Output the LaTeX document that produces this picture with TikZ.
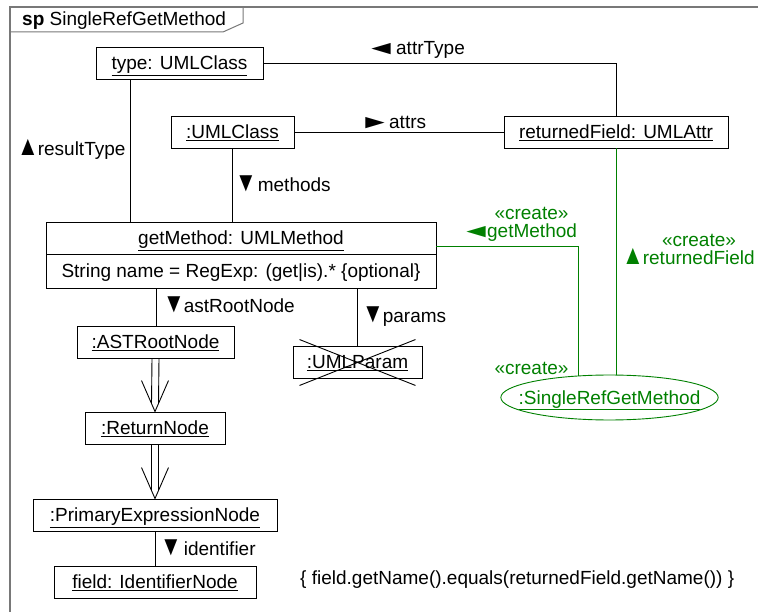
\documentclass[tikz,border=0pt]{standalone}
\usepackage{graphicx}
\usepackage{fontspec}
\setmainfont{Liberation Sans}
\usetikzlibrary{shapes.geometric}
\definecolor{umlgreen}{RGB}{0,128,0}
\definecolor{framegray}{RGB}{120,120,120}
% direction marks of link labels (side bearings removed)
\newcommand\triup{\kern-5pt\scalebox{1.15}[1.45]{▲}\kern-6pt}
\newcommand\tridown{\kern-5pt\scalebox{1.15}[1.45]{▼}\kern-6pt}
\newcommand\trileft{\kern-8pt\scalebox{1.7}[1.0]{◄}\kern-7pt}
\newcommand\triright{\kern-8pt\scalebox{1.7}[1.0]{►}\kern-7pt}
\begin{document}
\begin{tikzpicture}[x=1pt,y=-1pt,
  every node/.style={font=\fontsize{19}{22}\selectfont, inner sep=0pt, text height=15pt, text depth=2pt},
  obj/.style={draw, line width=0.9pt, minimum height=32pt},
  link/.style={line width=0.9pt},
  lbl/.style={anchor=west},
  create/.style={text=umlgreen},
  createlink/.style={umlgreen, line width=1pt}]
\useasboundingbox (0,0) rectangle (758,612);

% diagram frame with its name tab
\draw[framegray, line width=1.5pt] (10,612) -- (10,7) -- (758,7);
\draw[framegray, line width=1pt] (10,32) -- (223,32) -- (243,23) -- (243,7);
\node[lbl] (title) at (22,19) {\textbf{sp} SingleRefGetMethod};

% objects
\node[obj, minimum width=167pt] (type) at (179.5,63.5) {\underline{type: UMLClass}};
\node[obj, minimum width=123pt] (cls) at (232.5,132) {\underline{:UMLClass}};
\node[obj, minimum width=224pt] (rf) at (616,132) {\underline{returnedField: UMLAttr}};
\node[obj, minimum width=390pt] (gm) at (241,238) {\underline{getMethod: UMLMethod}};
\node[obj, minimum width=390pt, minimum height=34pt] (gma) at (241,271) {String name = RegExp: (get|is).* \{optional\}};
\node[obj, minimum width=157pt] (ast) at (155.5,342) {\underline{:ASTRootNode}};
\node[obj, minimum width=129pt] (param) at (357.5,362) {\underline{:UMLParam}};
\node[obj, minimum width=140pt] (ret) at (155,428) {\underline{:ReturnNode}};
\node[obj, minimum width=244pt] (prim) at (155,515) {\underline{:PrimaryExpressionNode}};
\node[obj, minimum width=202pt] (fld) at (155,582) {\underline{field: IdentifierNode}};
\node[ellipse, draw=umlgreen, line width=0.9pt, create, inner xsep=-14pt, inner ysep=7.4pt] (srg) at (609.5,397.5) {\underline{:SingleRefGetMethod}};

% negative object: crossed out
\draw[link] ([shift={(7,-6)}]param.north west) -- ([shift={(-7,7)}]param.south east);
\draw[link] ([shift={(7,7)}]param.south west) -- ([shift={(-7,-6)}]param.north east);

% links
\draw[link] (type.east) -| (rf.north);
\node[lbl] (l1) at (373,48) {\trileft\kern6pt attrType};
\draw[link] (cls.east) -- (rf.west);
\node[lbl] (l2) at (367,122) {\triright\kern5pt attrs};
\draw[link] (type.south -| 130,0) -- (gm.north -| 130,0);
\node[lbl] (l3) at (22,149) {\triup\kern5pt resultType};
\draw[link] (cls.south) -- (gm.north -| cls.south);
\node[lbl] (l4) at (240,185) {\tridown\kern7pt methods};
\draw[link] (gma.south -| 156,0) -- (ast.north -| 156,0);
\node[lbl] (l5) at (168,306) {\tridown\kern5pt astRootNode};
\draw[link] (gma.south -| param.north) -- (param.north);
\node[lbl] (l6) at (367,316) {\tridown\kern5pt params};
\draw[link] (prim.south) -- (fld.north);
\node[lbl] (l7) at (165,549) {\tridown\kern8pt identifier};

% path expressions
\draw[link] ([xshift=-3.5pt]ast.south) -- ([xshift=-3.5pt, yshift=8pt]ret.north);
\draw[link] ([xshift=3.5pt]ast.south) -- ([xshift=3.5pt, yshift=8pt]ret.north);
\draw[link] ([shift={(-13.5,-31)}]ret.north) -- (ret.north) -- ([shift={(13.5,-31)}]ret.north);
\draw[link] ([xshift=-3.5pt]ret.south) -- ([xshift=-3.5pt, yshift=8pt]prim.north);
\draw[link] ([xshift=3.5pt]ret.south) -- ([xshift=3.5pt, yshift=8pt]prim.north);
\draw[link] ([shift={(-13.5,-31)}]prim.north) -- (prim.north) -- ([shift={(13.5,-31)}]prim.north);

% created links
\draw[createlink] ([shift={(0,9)}]gm.east) -| (srg.145);
\node[create] (c1) at (531.5,213) {«create»};
\node[create, lbl] (c2) at (468,231) {\trileft\kern2pt getMethod};
\draw[createlink] (rf.south) -- (rf.south |- srg.north);
\node[create] (c3) at (699,240) {«create»};
\node[create, lbl] (c4) at (627,258) {\triup\kern5pt returnedField};
\node[create] (c5) at (531.5,368) {«create»};

% constraint
\node[lbl] (cons) at (300,578) {\{ field.getName().equals(returnedField.getName()) \}};
\end{tikzpicture}
\end{document}
